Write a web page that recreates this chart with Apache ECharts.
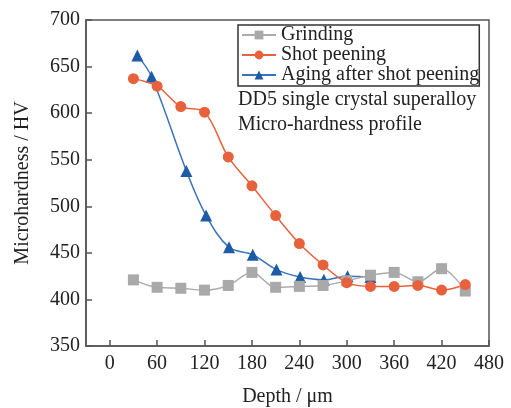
<!DOCTYPE html>
<html>
<head>
<meta charset="utf-8">
<script src="https://cdn.jsdelivr.net/npm/echarts@6/dist/echarts.min.js"></script>
<style>
  html, body { margin: 0; padding: 0; background: #fff; }
  #chart { width: 511px; height: 408px; }
</style>
</head>
<body>
<div id="chart"></div>
<script>
// depth (um) / microhardness (HV)
var grindDepth = [30, 60, 90, 120, 150, 180, 210, 240, 270, 300, 330, 360, 390, 420, 450]
var grindHv = [421, 413, 412, 410, 415, 429, 413, 414, 415, 420, 426, 429, 419, 433, 409]

var peenDepth = [30, 60, 90, 120, 150, 180, 210, 240, 270, 300, 330, 360, 390, 420, 450]
var peenHv = [637, 629, 607, 601, 553, 522, 490, 460, 437, 418, 414, 414, 415, 410, 416]

var agingDepth = [35, 53, 97, 122, 151, 181, 211, 241, 271, 301, 330]
var agingHv = [662, 639, 538, 490, 456, 448, 432, 424, 421, 425, 424]

var xTicks = [0, 60, 120, 180, 240, 300, 360, 420, 480]

function pairs (xs, ys) {
  return xs.map(function (x, i) { return [x, ys[i]] })
}

var font = 'Liberation Serif'
var axisColor = '#555'

var chart = echarts.init(document.getElementById('chart'))
var option = {
  animation: false,
  backgroundColor: '#fff',
  textStyle: { fontFamily: font },
  grid: {
    left: 86, right: 22, top: 20, bottom: 62,
    outerBoundsMode: 'none',
    show: true, borderColor: axisColor, borderWidth: 1.5
  },
  legend: {
    orient: 'vertical',
    left: 238, top: 25,
    itemWidth: 34, itemHeight: 11, itemGap: 0,
    padding: [0, 0, 1, 3],
    borderColor: '#333', borderWidth: 1.5,
    textStyle: { fontFamily: font, fontSize: 20, lineHeight: 19.5, color: '#222' },
    data: ['Grinding', 'Shot peening', 'Aging after shot peening']
  },
  graphic: [
    { type: 'text', left: 238, top: 90, style: { text: 'DD5 single crystal superalloy', font: '20px "Liberation Serif"', fill: '#222' } },
    { type: 'text', left: 238, top: 115, style: { text: 'Micro-hardness profile', font: '20px "Liberation Serif"', fill: '#222' } }
  ],
  xAxis: {
    type: 'value',
    min: -30, max: 480,
    name: 'Depth / μm',
    nameLocation: 'middle',
    nameGap: 41,
    nameTextStyle: { fontFamily: font, fontSize: 20, color: '#222' },
    axisLine: { onZero: false, lineStyle: { color: axisColor, width: 1.5 } },
    axisTick: { inside: true, length: 6, customValues: xTicks, lineStyle: { color: axisColor, width: 1.5 } },
    axisLabel: { customValues: xTicks, fontFamily: font, fontSize: 20, color: '#222', margin: 8 },
    splitLine: { show: false }
  },
  yAxis: {
    type: 'value',
    min: 350, max: 700, interval: 50,
    name: 'Microhardness / HV',
    nameLocation: 'middle',
    nameGap: 53,
    nameTextStyle: { fontFamily: font, fontSize: 20, color: '#222' },
    axisLine: { show: true, onZero: false, lineStyle: { color: axisColor, width: 1.5 } },
    axisTick: { show: true, inside: true, length: 6, lineStyle: { color: axisColor, width: 1.5 } },
    axisLabel: { fontFamily: font, fontSize: 20, color: '#222', margin: 6 },
    splitLine: { show: false }
  },
  series: [
    {
      name: 'Aging after shot peening',
      type: 'line',
      smooth: 0.35,
      symbol: 'triangle',
      symbolSize: 12,
      z: 2,
      itemStyle: { color: '#1d5ba6' },
      lineStyle: { color: '#3a72b8', width: 1.5 },
      data: pairs(agingDepth, agingHv)
    },
    {
      name: 'Grinding',
      type: 'line',
      smooth: 0.35,
      symbol: 'rect',
      symbolSize: 11,
      z: 3,
      itemStyle: { color: '#a9a9a9' },
      lineStyle: { color: '#ababab', width: 1.5 },
      data: pairs(grindDepth, grindHv)
    },
    {
      name: 'Shot peening',
      type: 'line',
      smooth: 0.35,
      symbol: 'circle',
      symbolSize: 11,
      z: 4,
      itemStyle: { color: '#e8613d' },
      lineStyle: { color: '#e8613d', width: 1.5 },
      data: pairs(peenDepth, peenHv)
    }
  ]
}
chart.setOption(option)
</script>
</body>
</html>
